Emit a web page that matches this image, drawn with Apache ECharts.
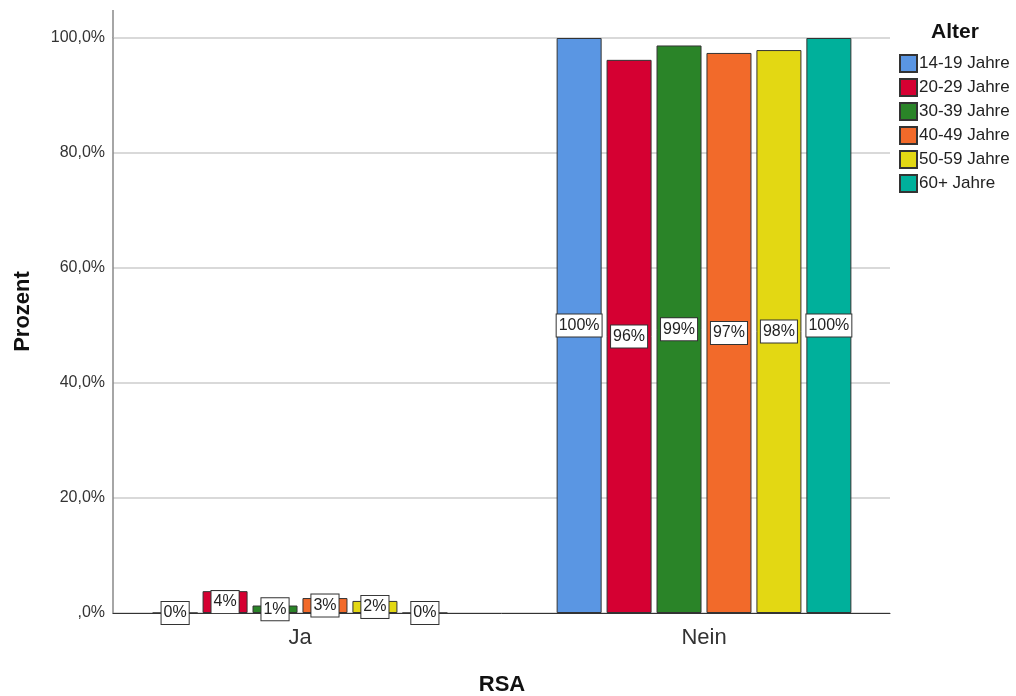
<!DOCTYPE html>
<html><head><meta charset="utf-8">
<script src="https://cdn.jsdelivr.net/npm/echarts@6/dist/echarts.min.js"></script>
<style>html,body{margin:0;padding:0;background:#fff}#c{width:1016px;height:696px}</style>
</head><body><div id="c"></div>
<script>
const categories = ['Ja', 'Nein'];
const seriesNames = ['14-19 Jahre', '20-29 Jahre', '30-39 Jahre', '40-49 Jahre', '50-59 Jahre', '60+ Jahre'];
const v1419 = [0, 100];
const v2029 = [3.8, 96.2];
const v3039 = [1.3, 98.7];
const v4049 = [2.6, 97.4];
const v5059 = [2.1, 97.9];
const v60 = [0, 100];
const colors = ['#5A96E3', '#D50032', '#2A8428', '#F26A2A', '#E3D813', '#00B09B'];
const yTicks = [0, 20, 40, 60, 80, 100];

const allValues = [v1419, v2029, v3039, v4049, v5059, v60];
const chart = echarts.init(document.getElementById('c'), null, {renderer: 'canvas'});
const fontFamily = 'Liberation Sans, Arial, sans-serif';
const series = seriesNames.map((n, i) => ({
  name: n, type: 'bar', data: allValues[i],
  xAxisIndex: 1, yAxisIndex: 1,
  barWidth: 45, barGap: '11%',
  itemStyle: {color: colors[i], borderColor: '#333', borderWidth: 1},
  label: {
    show: true, position: 'inside',
    formatter: p => Math.round(p.value) + '%',
    backgroundColor: '#fff', borderColor: '#333', borderWidth: 1,
    padding: [3, 2, 3, 2], fontSize: 16, color: '#222', fontFamily
  },
  emphasis: {disabled: true}
}));
const yLabelFmt = v => yTicks.includes(v) ? (v === 0 ? ',0%' : v.toFixed(1).replace('.', ',') + '%') : '';
chart.setOption({
  animation: false,
  textStyle: {fontFamily},
  title: {text: 'Alter', left: 926, top: 17, textStyle: {fontSize: 21, fontWeight: 'bold', color: '#111', fontFamily}},
  legend: {
    orient: 'vertical', left: 894, top: 49, itemWidth: 17, itemHeight: 17, itemGap: 5,
    icon: 'rect', data: seriesNames,
    textStyle: {fontSize: 17, color: '#222', fontFamily, padding: [0, 0, 0, -3]}
  },
  grid: [
    {left: 113, width: 777, top: 38, height: 575, containLabel: false, outerBoundsMode: 'none'},
    {left: 98, width: 808, top: 38, height: 575, containLabel: false, outerBoundsMode: 'none'}
  ],
  xAxis: [{
    type: 'category', data: categories, gridIndex: 0,
    axisLine: {lineStyle: {color: '#333', width: 1}},
    axisTick: {show: false},
    axisLabel: {show: false}
  }, {
    type: 'category', data: categories, gridIndex: 1,
    name: 'RSA', nameLocation: 'middle', nameGap: 61,
    nameTextStyle: {fontSize: 22, fontWeight: 'bold', color: '#111', fontFamily},
    axisLine: {show: false},
    axisTick: {show: false},
    axisLabel: {fontSize: 22, color: '#333', margin: 14, fontFamily}
  }],
  yAxis: [{
    type: 'value', min: 0, max: 100, interval: 20, gridIndex: 0,
    name: 'Prozent', nameLocation: 'middle', nameGap: 79, nameRotate: 90,
    nameTextStyle: {fontSize: 22, fontWeight: 'bold', color: '#111', fontFamily, padding: [0, 0, 0, 28]},
    axisLine: {show: true, lineStyle: {color: '#888', width: 1.5}},
    axisTick: {show: false},
    splitLine: {lineStyle: {color: '#ccc', width: 1.5}},
    axisLabel: {fontSize: 16, color: '#333', margin: 8, fontFamily, formatter: yLabelFmt}
  }, {
    type: 'value', min: 0, max: 100, interval: 20, gridIndex: 1,
    axisLine: {show: false}, axisTick: {show: false}, splitLine: {show: false}, axisLabel: {show: false}
  }],
  graphic: [{type: 'line', shape: {x1: 113, y1: 10, x2: 113, y2: 38}, style: {stroke: '#888', lineWidth: 1.5}}],
  series
});
</script></body></html>
